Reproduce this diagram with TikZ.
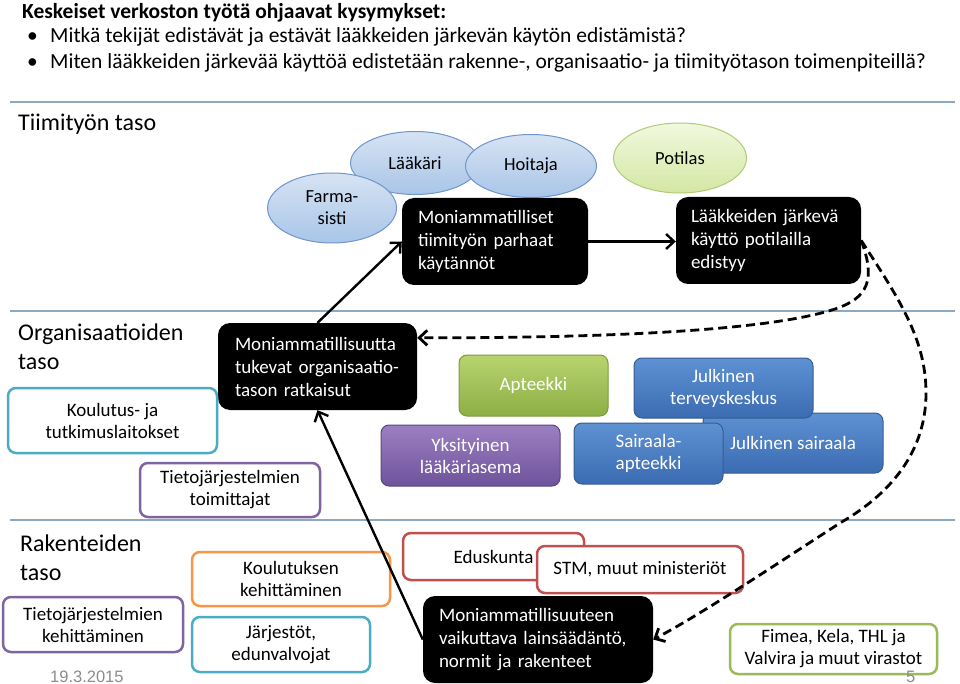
\documentclass[tikz,border=0pt]{standalone}
\usepackage{fontspec}
\setmainfont{Carlito}
\newfontfamily\datefont{Liberation Sans}
\usetikzlibrary{shapes.geometric,arrows.meta,calc}
\definecolor{sepcol}{HTML}{8DA9C2}
\definecolor{ellborder}{HTML}{7096CC}
\definecolor{elltop}{HTML}{D6E3F3}
\definecolor{ellbot}{HTML}{A9C5E8}
\definecolor{potborder}{HTML}{AFCB78}
\definecolor{pottop}{HTML}{F1F8DE}
\definecolor{potbot}{HTML}{D3E8A4}
\definecolor{teal}{HTML}{4BACC6}
\definecolor{purp}{HTML}{8064A2}
\definecolor{orng}{HTML}{F79646}
\definecolor{redb}{HTML}{C0504D}
\definecolor{grnb}{HTML}{9BBB59}
\definecolor{gtop}{HTML}{B8D46F}
\definecolor{gbot}{HTML}{8DAE45}
\definecolor{gbord}{HTML}{7E9C3E}
\definecolor{ptop}{HTML}{9D80C2}
\definecolor{pbot}{HTML}{6E529B}
\definecolor{pbord}{HTML}{5D477F}
\definecolor{btop}{HTML}{5E92D3}
\definecolor{bbot}{HTML}{3B6BB2}
\definecolor{bbord}{HTML}{375C92}
\definecolor{dategray}{HTML}{8C8C8C}
\tikzset{
  sepline/.style={draw=sepcol, line width=1.3pt},
  lvl/.style={font=\fontsize{24}{29}\selectfont, anchor=base west, inner sep=0pt},
  blk/.style={fill=black, rounded corners=12pt, text=white, font=\fontsize{19}{23}\selectfont, align=left, inner ysep=0pt},
  ell/.style={ellipse, draw=ellborder, line width=1pt, top color=elltop, bottom color=ellbot, font=\fontsize{18.5}{22}\selectfont, align=center, inner sep=0pt},
  obox/.style={draw=#1, line width=2.5pt, rounded corners=8pt, fill=white, font=\fontsize{19}{22}\selectfont, align=center, inner sep=0pt},
  cbox/.style n args={3}{draw=#3, line width=1pt, rounded corners=8pt, top color=#1, bottom color=#2, text=white, font=\fontsize{19}{22}\selectfont, align=center, inner sep=0pt},
  arr/.style={-{Straight Barb[length=8pt,width=15pt]}, line width=2.4pt},
  darr/.style={-{Straight Barb[length=8pt,width=15pt]}, line width=2.8pt, dash pattern=on 9pt off 5pt},
  ttl/.style={font=\fontsize{21.5}{26}\selectfont, anchor=base west, inner sep=0pt}
}
\begin{document}
\begin{tikzpicture}[x=1pt,y=-1pt]
\fill[white] (0,0) rectangle (960,684);
\useasboundingbox (0,0) rectangle (960,684);

% header
\node[ttl, font=\fontsize{21.5}{26}\selectfont\bfseries] (title) at (22,19) {Keskeiset verkoston työtä ohjaavat kysymykset:};
\node[ttl] (b1) at (27,43) {•};
\node[ttl] (q1) at (50,43) {Mitkä tekijät edistävät ja estävät lääkkeiden järkevän käytön edistämistä?};
\node[ttl] (b2) at (27,69) {•};
\node[ttl] (q2) at (50,69) {Miten lääkkeiden järkevää käyttöä edistetään rakenne-, organisaatio- ja tiimityötason toimenpiteillä?};

% separator lines
\coordinate (l1a) at (10,102); \coordinate (l1b) at (955,102);
\coordinate (l2a) at (10,311); \coordinate (l2b) at (955,311);
\coordinate (l3a) at (10,520); \coordinate (l3b) at (955,520);
\draw[sepline] (l1a) -- (l1b);
\draw[sepline] (l2a) -- (l2b);
\draw[sepline] (l3a) -- (l3b);

% level labels (base = last line)
\node[lvl] (lv1) at (18,131) {Tiimityön taso};
\node[lvl, align=left] (lv2) at (18,369) {Organisaatioiden\\taso};
\node[lvl, align=left] (lv3) at (20,580) {Rakenteiden\\taso};

% team level
\node[ell, minimum width=129pt, minimum height=63pt] (lak) at (415,163) {Lääkäri};
\node[ell, minimum width=131pt, minimum height=63pt] (hoi) at (531,166) {Hoitaja};
\node[ell, minimum width=129pt, minimum height=70pt] (far) at (332,208) {Farma-\\sisti};
\node[ell, draw=potborder, top color=pottop, bottom color=potbot, minimum width=133pt, minimum height=70pt] (pot) at (680,158) {Potilas};

\node[blk, minimum width=186pt, minimum height=87pt, text width=154pt, inner xsep=16pt] (mt) at (495,241.5)
  {\mbox{Moniammatilliset}\\\mbox{tiimityön parhaat}\\\mbox{käytännöt}};
\node[blk, minimum width=185pt, minimum height=87pt, text width=155pt, inner xsep=15pt] (lk) at (768.5,240.5)
  {\mbox{Lääkkeiden järkevä}\\\mbox{käyttö potilailla}\\\mbox{edistyy}};

% organisation level
\node[blk, minimum width=199pt, minimum height=87pt, text width=165pt, inner xsep=17pt] (org) at (317.5,366.5)
  {\mbox{Moniammatillisuutta}\\\mbox{tukevat organisaatio-}\\\mbox{tason ratkaisut}};
\node[obox=teal, minimum width=209pt, minimum height=65pt] (kt) at (112.5,420.5) {Koulutus- ja\\tutkimuslaitokset};
\node[obox=purp, minimum width=180pt, minimum height=54pt] (tt) at (230,490) {Tietojärjestelmien\\toimittajat};

\node[cbox={gtop}{gbot}{gbord}, minimum width=149pt, minimum height=61pt] (apt) at (533.5,385.5) {Apteekki};
\node[cbox={ptop}{pbot}{pbord}, minimum width=179pt, minimum height=61pt] (yks) at (470.5,455.5) {Yksityinen\\lääkäriasema};
\node[cbox={btop}{bbot}{bbord}, minimum width=180pt, minimum height=60pt] (js) at (793,443) {Julkinen sairaala};
\node[cbox={btop}{bbot}{bbord}, minimum width=179pt, minimum height=60pt] (jtk) at (723.5,388) {Julkinen\\terveyskeskus};
\node[cbox={btop}{bbot}{bbord}, minimum width=149pt, minimum height=61pt] (sa) at (648.5,453.5) {Sairaala-\\apteekki};

% structure level
\node[obox=purp, minimum width=180pt, minimum height=55pt] (tk) at (93,624.5) {Tietojärjestelmien\\kehittäminen};
\node[obox=orng, minimum width=198pt, minimum height=54pt] (kk) at (291,579) {Koulutuksen\\kehittäminen};
\node[obox=teal, minimum width=178pt, minimum height=55pt] (je) at (281,644.5) {Järjestöt,\\edunvalvojat};
\node[obox=redb, minimum width=181pt, minimum height=47pt] (ed) at (493.5,556.5) {Eduskunta};
\node[obox=redb, minimum width=206pt, minimum height=47pt] (stm) at (640,569.5) {STM, muut ministeriöt};
\node[obox=grnb, minimum width=207pt, minimum height=50pt] (fim) at (833.5,649) {Fimea, Kela, THL ja\\Valvira ja muut virastot};
\node[blk, minimum width=230pt, minimum height=87pt, text width=198pt, inner xsep=16pt] (mg) at (538,639.5)
  {\mbox{Moniammatillisuuteen}\\\mbox{vaikuttava lainsäädäntö,}\\\mbox{normit ja rakenteet}};

% footer
\node[anchor=base west, inner sep=0pt, text=dategray, font=\datefont\fontsize{16.5}{19}\selectfont] (date) at (50,682) {19.3.2015};
\node[anchor=base west, inner sep=0pt, text=dategray, font=\datefont\fontsize{16.5}{19}\selectfont] (pg) at (906,682) {5};

% connectors
\draw[arr] (mt.east) -- (mt.east -| lk.west);
\draw[arr] (org.north) -- (mt.west);
\draw[arr] (mg.west) -- (org.south);
\draw[darr] (lk.east) .. controls (876,280) and (868,298) .. (835,309)
   .. controls (760,334) and (560,338) .. ($(org.north east)+(0,15)$);
\draw[darr] (lk.east) .. controls (900,300) and (926,340) .. (926,393)
   .. controls (926,460) and (880,500) .. (840,523)
   .. controls (775,565) and (700,615) .. (mg.east);
\end{tikzpicture}
\end{document}
